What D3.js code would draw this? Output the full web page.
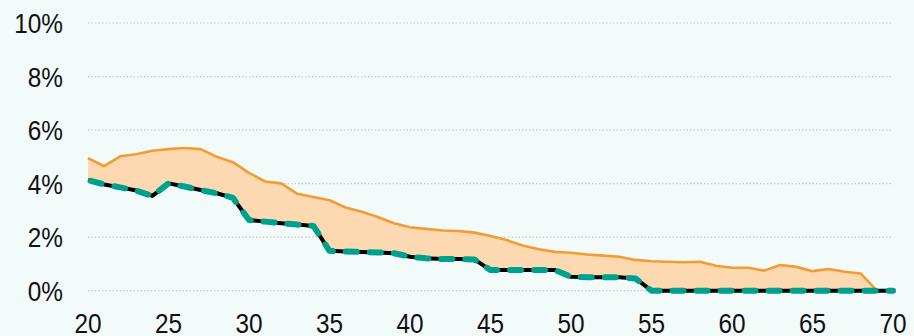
<!DOCTYPE html>
<html>
<head>
<meta charset="utf-8">
<script src="https://cdn.jsdelivr.net/npm/d3@7"></script>
<style>
  html, body { margin: 0; padding: 0; background: #f2fafa; }
  svg { display: block; }
  text { font-family: "Liberation Sans", Arial, sans-serif; fill: #111; }
</style>
</head>
<body>
<svg id="chart" width="914" height="336"></svg>
<script>
// Age on the x axis
const ages = d3.range(20, 71);

// Upper bound of the shaded band (orange line), percent
const upperValues = [
  4.95, 4.65, 5.02, 5.10, 5.23, 5.29, 5.33, 5.29, 5.00, 4.80,
  4.40, 4.08, 4.01, 3.62, 3.50, 3.38, 3.11, 2.95, 2.75, 2.52,
  2.37, 2.31, 2.25, 2.23, 2.17, 2.04, 1.89, 1.69, 1.55, 1.45,
  1.42, 1.35, 1.31, 1.27, 1.15, 1.10, 1.08, 1.06, 1.08, 0.93,
  0.86, 0.86, 0.75, 0.96, 0.89, 0.73, 0.81, 0.71, 0.64, 0.00,
  0.00
];

// Lower bound of the band (black line with teal dashes), percent
const lowerValues = [
  4.13, 3.97, 3.86, 3.74, 3.54, 4.01, 3.89, 3.76, 3.64, 3.47,
  2.64, 2.58, 2.52, 2.47, 2.42, 1.49, 1.46, 1.45, 1.43, 1.40,
  1.27, 1.21, 1.18, 1.18, 1.17, 0.77, 0.77, 0.77, 0.77, 0.77,
  0.52, 0.50, 0.50, 0.50, 0.46, 0.00, 0.00, 0.00, 0.00, 0.00,
  0.00, 0.00, 0.00, 0.00, 0.00, 0.00, 0.00, 0.00, 0.00, 0.00,
  0.00
];

const xTicks = [20, 25, 30, 35, 40, 45, 50, 55, 60, 65, 70];
const yTicks = [0, 2, 4, 6, 8, 10];

const rows = ages.map((a, i) => ({ age: a, hi: upperValues[i], lo: lowerValues[i] }));

const svg = d3.select("#chart");

const x = d3.scaleLinear().domain([20, 70]).range([88, 893]);
const y = d3.scaleLinear().domain([0, 10]).range([290.7, 23]);

// Dotted horizontal gridlines
svg.append("g")
  .selectAll("line")
  .data(yTicks)
  .join("line")
  .attr("x1", x(20))
  .attr("x2", x(70))
  .attr("y1", d => y(d))
  .attr("y2", d => y(d))
  .attr("stroke", "#c9cccc")
  .attr("stroke-width", 1.2)
  .attr("stroke-dasharray", "1.5,2");

// Y tick labels
const narrow = 0.87;
svg.append("g")
  .selectAll("text")
  .data(yTicks)
  .join("text")
  .attr("transform", d => `translate(63,${y(d) + 10}) scale(${narrow},1)`)
  .attr("text-anchor", "end")
  .style("font-size", "28px")
  .text(d => d + "%");

// X tick labels
svg.append("g")
  .selectAll("text")
  .data(xTicks)
  .join("text")
  .attr("transform", d => `translate(${x(d)},333) scale(${narrow},1)`)
  .attr("text-anchor", "middle")
  .style("font-size", "28px")
  .text(d => d);

// Shaded band between the two series
const band = d3.area()
  .x(d => x(d.age))
  .y0(d => y(d.lo))
  .y1(d => y(d.hi));

svg.append("path")
  .datum(rows)
  .attr("d", band)
  .attr("fill", "#fcd9b1");

// Upper line
const upperLine = d3.line().x(d => x(d.age)).y(d => y(d.hi));
svg.append("path")
  .datum(rows)
  .attr("d", upperLine)
  .attr("fill", "none")
  .attr("stroke", "#f39c33")
  .attr("stroke-width", 2.6)
  .attr("stroke-linejoin", "round");

// Lower line: solid black under a teal dashed stroke
const lowerLine = d3.line().x(d => x(d.age)).y(d => y(d.lo));
svg.append("path")
  .datum(rows)
  .attr("d", lowerLine)
  .attr("fill", "none")
  .attr("stroke", "#000")
  .attr("stroke-width", 4)
  .attr("stroke-linejoin", "round");

svg.append("path")
  .datum(rows)
  .attr("d", lowerLine)
  .attr("fill", "none")
  .attr("stroke", "#00a08f")
  .attr("stroke-width", 6)
  .attr("stroke-linecap", "round")
  .attr("stroke-linejoin", "round")
  .attr("stroke-dasharray", "11,13")
  .attr("stroke-dashoffset", -3);
</script>
</body>
</html>
